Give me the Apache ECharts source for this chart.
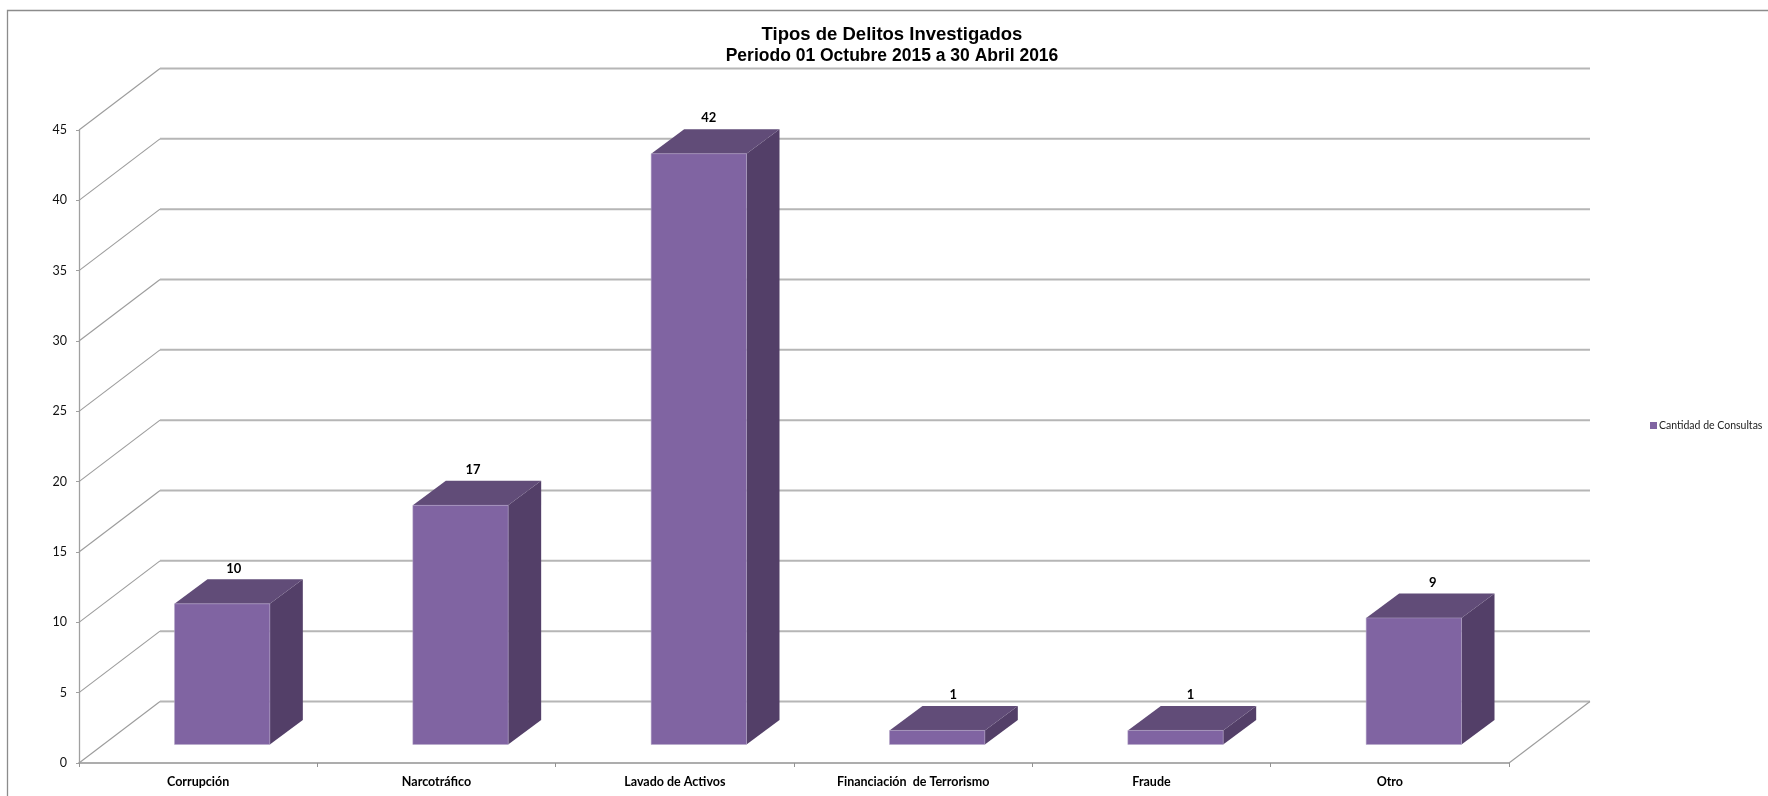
<!DOCTYPE html>
<html><head><meta charset="utf-8">
<style>html,body{margin:0;padding:0;background:#fff}#c{width:1768px;height:796px}</style>
<script src="https://cdn.jsdelivr.net/npm/echarts@6/dist/echarts.min.js"></script>
</head><body><div id="c"></div>
<script>
const categories = ["Corrupción","Narcotráfico","Lavado de Activos","Financiación  de Terrorismo","Fraude","Otro"];
const values = [10,17,42,1,1,9];
const yTicks = [0,5,10,15,20,25,30,35,40,45];
const seriesName = "Cantidad de Consultas";

const WALL = [81,-61.5];     // depth of the 3D box
const BAR_OFF = [24,-18.5];  // bar front face offset into the depth
const BAR_DEPTH = [33,-24.5];
const LABEL_SHIFT = [11.5,12.5,10,16,15,19]; // label offset from the bar centre
const FRONT='#8064A2', TOP='#614C78', SIDE='#533F68';

const chart = echarts.init(document.getElementById('c'),null,{renderer:'canvas'});
chart.setOption({
  animation:false,
  backgroundColor:'#fff',
  title:[
    {text:'Tipos de Delitos Investigados',left:887,top:20,textAlign:'center',
     textStyle:{fontFamily:'Liberation Sans',fontWeight:'bold',fontSize:18.5,color:'#000'}},
    {text:'Periodo 01 Octubre 2015 a 30 Abril 2016',left:887,top:42,textAlign:'center',
     textStyle:{fontFamily:'Liberation Sans',fontWeight:'bold',fontSize:17.5,color:'#000'}}
  ],
  legend:{left:1645,top:415,orient:'vertical',data:[seriesName],itemWidth:7,itemHeight:7,icon:'rect',itemGap:0,
    textStyle:{fontFamily:'Lato',fontSize:10.5,color:'#222',padding:[0,0,0,-3]}},
  grid:{left:79,right:259,top:130,bottom:33,containLabel:false},
  graphic:[{type:'polyline',silent:true,shape:{points:[[7.5,796],[7.5,10.5],[1768,10.5]]},
    style:{stroke:'#8c8c8c',lineWidth:1.3,fill:null}}],
  xAxis:{type:'category',data:categories,
    axisLine:{show:true,lineStyle:{color:'#929292',width:1.6}},
    axisTick:{show:true,alignWithLabel:false,length:4,lineStyle:{color:'#929292'}},
    axisLabel:{interval:0,margin:12,fontFamily:'Lato',fontWeight:'bold',fontSize:12.5,color:'#000'},
    splitLine:{show:false}},
  yAxis:{type:'value',min:0,max:45,interval:5,
    axisLine:{show:true,onZero:false,lineStyle:{color:'#a0a0a0',width:1.3}},
    axisTick:{show:true,length:3,lineStyle:{color:'#a0a0a0'}},
    axisLabel:{margin:12,fontFamily:'Lato',fontSize:12.5,color:'#111'},
    splitLine:{show:false}},
  series:[
    {type:'custom',name:'wall',silent:true,z:1,clip:false,
     data:yTicks.map(v=>[0,v]),encode:{x:0,y:1},
     renderItem(params,api){
       const p=api.coord([0,api.value(1)]);
       const cs=params.coordSys;
       const x0=cs.x,y=p[1],x1=cs.x+cs.width;
       return {type:'group',children:[
         {type:'line',shape:{x1:x0,y1:y,x2:x0+WALL[0],y2:y+WALL[1]},style:{stroke:'#9c9c9c',lineWidth:1.1}},
         {type:'line',shape:{x1:x0+WALL[0],y1:y+WALL[1],x2:x1+WALL[0],y2:y+WALL[1]},style:{stroke:'#b6b6b6',lineWidth:2}}
       ].concat(api.value(1)===0?[
         {type:'line',shape:{x1:x1,y1:y,x2:x1+WALL[0],y2:y+WALL[1]},style:{stroke:'#9c9c9c',lineWidth:1.1}}
       ]:[])};
     }},
    {type:'custom',name:seriesName,z:5,clip:false,itemStyle:{color:FRONT},
     data:values.map((v,i)=>[i,v]),encode:{x:0,y:1},
     renderItem(params,api){
       const i=api.value(0),v=api.value(1);
       const top=api.coord([i,v]),base=api.coord([i,0]);
       const w=api.size([1,0])[0]*0.4;
       const x=top[0]-w/2+BAR_OFF[0],xr=x+w;
       const yt=top[1]+BAR_OFF[1],yb=base[1]+BAR_OFF[1];
       const [dx,dy]=BAR_DEPTH;
       return {type:'group',children:[
         {type:'polygon',shape:{points:[[xr,yt],[xr+dx,yt+dy],[xr+dx,yb+dy],[xr,yb]]},style:{fill:SIDE}},
         {type:'polygon',shape:{points:[[x,yt],[x+dx,yt+dy],[xr+dx,yt+dy],[xr,yt]]},style:{fill:TOP}},
         {type:'rect',shape:{x:x,y:yt,width:w,height:yb-yt},style:{fill:FRONT,stroke:'#b5a6c8',lineWidth:0.5}},
         {type:'text',x:x+w/2+LABEL_SHIFT[i],y:yt+dy-11,style:{text:String(v),fontFamily:'Lato',fontWeight:'bold',fontSize:13,fill:'#000',align:'center',verticalAlign:'middle'}}
       ]};
     }}
  ]
});
</script></body></html>
